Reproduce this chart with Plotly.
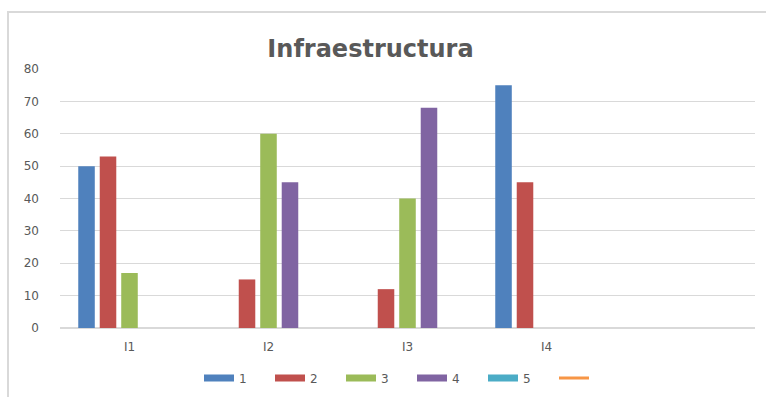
import plotly.graph_objects as go

categories = ["I1", "I2", "I3", "I4"]
series_names = ["1", "2", "3", "4", "5"]
s1 = [50, None, None, 75]
s2 = [53, 15, 12, 45]
s3 = [17, 60, 40, None]
s4 = [None, 45, 68, None]
s5 = [None, None, None, None]
series_values = [s1, s2, s3, s4, s5]
colors = ["#4f81bd", "#c0504d", "#9bbb59", "#8064a2", "#4bacc6"]
line_color = "#f79646"
y_ticks = [0, 10, 20, 30, 40, 50, 60, 70, 80]

FONT = "DejaVu Sans"
W, H = 766, 397
L, R, T, B = 60, 11, 69, 69
pw, ph = W - L - R, H - T - B

fig = go.Figure()
for name, vals, col in zip(series_names, series_values, colors):
    fig.add_trace(go.Bar(x=categories, y=vals, name=name, marker_color=col,
                         marker_line_width=0, showlegend=False))
# legend entries
for name, col in zip(series_names, colors):
    fig.add_trace(go.Scatter(x=[None], y=[None], mode="lines", name=name,
                             line=dict(color=col, width=7), showlegend=True))
fig.add_trace(go.Scatter(x=[None], y=[None], mode="lines", name=" ",
                         line=dict(color=line_color, width=3), showlegend=True))

def px_x(p):
    return (p - L) / pw

def px_y(p):
    return (H - B - p) / ph

fig.update_layout(
    width=W, height=H,
    margin=dict(l=L, r=R, t=T, b=B, autoexpand=False),
    paper_bgcolor="white", plot_bgcolor="white",
    barmode="group", bargap=0.227, bargroupgap=0.23,
    font=dict(family=FONT, size=12, color="#595959"),
    title=dict(text="<b>Infraestructura</b>", x=px_x(370.5), xanchor="center",
               y=1 - 49 / H, yanchor="middle", xref="paper",
               font=dict(family=FONT, size=24, color="#595959")),
    xaxis=dict(type="category", range=[-0.5, 4.5], showgrid=False,
               showline=False, ticks="", ticklabelstandoff=10,
               tickfont=dict(size=12, color="#595959")),
    yaxis=dict(range=[0, 80], tickvals=y_ticks, showgrid=True,
               gridcolor="#d9d9d9", gridwidth=1, zeroline=True,
               zerolinecolor="#d9d9d9", zerolinewidth=1.5, showline=False,
               ticks="", ticklabelstandoff=20,
               tickfont=dict(size=12, color="#595959")),
    legend=dict(orientation="h", x=px_x(412), xanchor="center",
                y=px_y(378), yanchor="middle", entrywidth=26,
                font=dict(size=12, color="#595959"), bgcolor="rgba(0,0,0,0)"),
    shapes=[dict(type="rect", xref="paper", yref="paper",
                 x0=px_x(8), x1=px_x(800), y0=px_y(420), y1=px_y(12),
                 line=dict(color="#d9d9d9", width=2), fillcolor="rgba(0,0,0,0)",
                 layer="below")],
)

fig.write_html("out.html")
